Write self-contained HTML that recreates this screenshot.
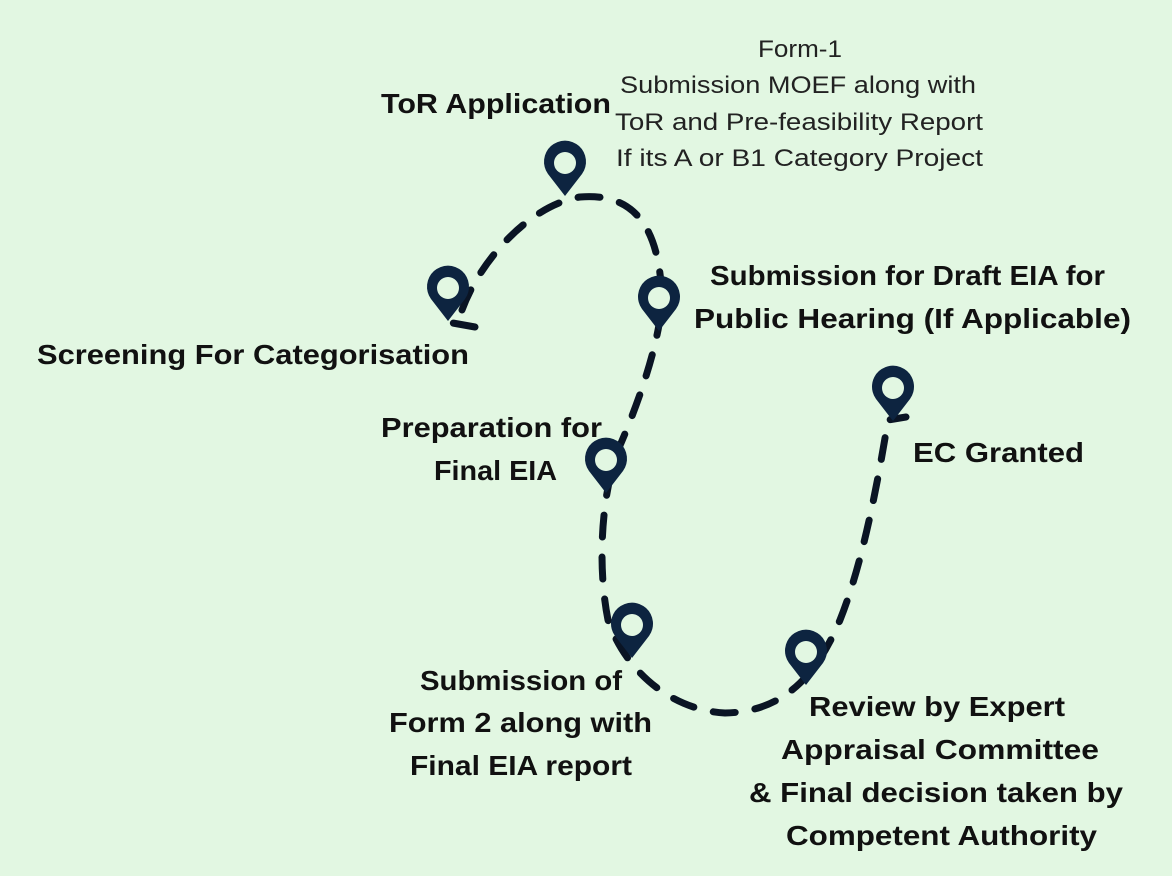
<!DOCTYPE html>
<html><head><meta charset="utf-8"><style>
html,body{margin:0;padding:0;background:#e2f7e2;}
svg{display:block}
.b{font-family:"Liberation Sans",sans-serif;font-weight:bold;font-size:28px;fill:#111}
.l{font-family:"Liberation Sans",sans-serif;font-size:24px;fill:#222}
</style></head><body>
<svg width="1172" height="876" viewBox="0 0 1172 876" xmlns="http://www.w3.org/2000/svg">
<rect width="1172" height="876" fill="#e2f7e2"/>
<defs>
<g id="pin">
<path d="M0,0 L-17,-22 A21,21 0 1 1 17,-22 Z" fill="#0d2440"/>
<circle cx="0" cy="-33" r="11" fill="#e2f7e2"/>
</g>
</defs>
<path d="M475,327 L447,322 M462,310 C480,260 530,205 580,197 C640,192 660,235 662,300 C660,340 640,400 618,450 C600,500 598,570 608,620 C625,670 670,710 725,713 C780,712 815,680 840,620 C860,570 875,500 888,420 L906,417"
 fill="none" stroke="#0a1424" stroke-width="7" stroke-linecap="round" stroke-dasharray="22 20"/>
<use href="#pin" x="565" y="196"/>
<use href="#pin" x="448" y="321"/>
<use href="#pin" x="659" y="331"/>
<use href="#pin" x="606" y="493"/>
<use href="#pin" x="632" y="658"/>
<use href="#pin" x="806" y="685"/>
<use href="#pin" x="893" y="421"/>
<text class="l" x="758" y="57" textLength="84" lengthAdjust="spacingAndGlyphs">Form-1</text>
<text class="l" x="620" y="93" textLength="356" lengthAdjust="spacingAndGlyphs">Submission MOEF along with</text>
<text class="l" x="615" y="130" textLength="368" lengthAdjust="spacingAndGlyphs">ToR and Pre-feasibility Report</text>
<text class="l" x="616" y="166" textLength="367" lengthAdjust="spacingAndGlyphs">If its A or B1 Category Project</text>
<text class="b" x="381" y="113" textLength="230" lengthAdjust="spacingAndGlyphs">ToR Application</text>
<text class="b" x="37" y="364" textLength="432" lengthAdjust="spacingAndGlyphs">Screening For Categorisation</text>
<text class="b" x="710" y="285" textLength="395" lengthAdjust="spacingAndGlyphs">Submission for Draft EIA for</text>
<text class="b" x="694" y="328" textLength="437" lengthAdjust="spacingAndGlyphs">Public Hearing (If Applicable)</text>
<text class="b" x="381" y="437" textLength="221" lengthAdjust="spacingAndGlyphs">Preparation for</text>
<text class="b" x="434" y="480" textLength="123" lengthAdjust="spacingAndGlyphs">Final EIA</text>
<text class="b" x="913" y="462" textLength="171" lengthAdjust="spacingAndGlyphs">EC Granted</text>
<text class="b" x="420" y="690" textLength="202" lengthAdjust="spacingAndGlyphs">Submission of</text>
<text class="b" x="389" y="732" textLength="263" lengthAdjust="spacingAndGlyphs">Form 2 along with</text>
<text class="b" x="410" y="775" textLength="222" lengthAdjust="spacingAndGlyphs">Final EIA report</text>
<text class="b" x="809" y="716" textLength="256" lengthAdjust="spacingAndGlyphs">Review by Expert</text>
<text class="b" x="781" y="759" textLength="318" lengthAdjust="spacingAndGlyphs">Appraisal Committee</text>
<text class="b" x="749" y="802" textLength="374" lengthAdjust="spacingAndGlyphs">&amp; Final decision taken by</text>
<text class="b" x="786" y="845" textLength="311" lengthAdjust="spacingAndGlyphs">Competent Authority</text>
</svg>
</body></html>
